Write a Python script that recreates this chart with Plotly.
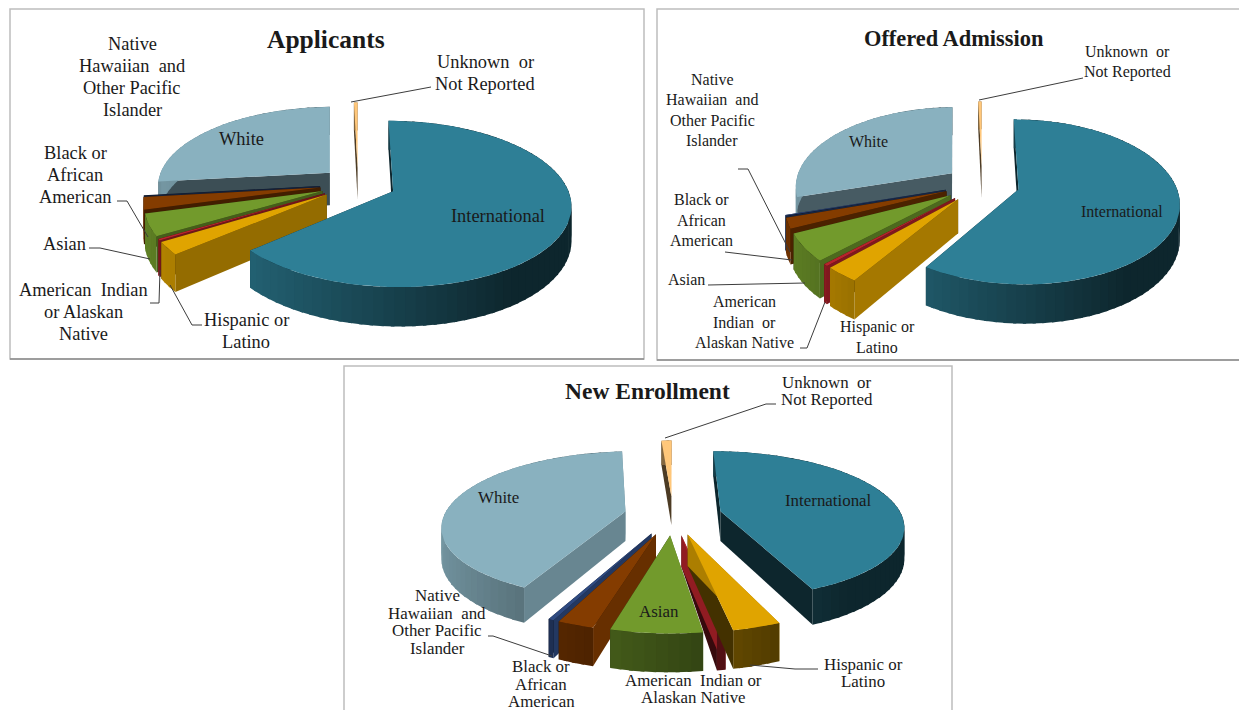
import math

import plotly.graph_objects as go

# clockwise from 12 o'clock
categories = [
    "International",
    "Hispanic or Latino",
    "American Indian or Alaskan Native",
    "Asian",
    "Black or African American",
    "Native Hawaiian and Other Pacific Islander",
    "White",
    "Unknown or Not Reported",
]
applicants = [63.6, 2.5, 0.3, 4.3, 2.4, 0.1, 26.4, 0.4]
offered_admission = [59.0, 3.0, 0.4, 5.4, 2.1, 0.2, 29.4, 0.4]
new_enrollment = [43.7, 3.4, 0.6, 6.4, 2.6, 0.4, 41.8, 1.1]

colors = ["#2e7f96", "#e0a400", "#b8242c", "#729a2c", "#843c00", "#2f4a80", "#89b1bf", "#ffc77a"]

SERIF = "Liberation Serif"
TEXT = "#1a1a1a"
LINE = "#3c3c3c"
# the page body keeps its default 8px margin, so the axes start there
PAGE_MARGIN = 8


def shade(hex_color, f):
    r, g, b = (int(hex_color[i:i + 2], 16) for i in (1, 3, 5))
    return f"rgb({int(r * f)},{int(g * f)},{int(b * f)})"


def project(pie, x, y, z=0.0):
    s = 1 / (1 + pie["p"] * y)
    return pie["cx"] + pie["rx"] * x * s, pie["cy"] - pie["ry"] * y * s + pie["depth"] * z * s


def add_poly(fig, pts, color):
    xs = [p[0] for p in pts] + [pts[0][0]]
    ys = [p[1] for p in pts] + [pts[0][1]]
    fig.add_trace(go.Scatter(x=xs, y=ys, mode="lines", fill="toself", fillcolor=color,
                             line={"color": color, "width": 0}, hoverinfo="skip", showlegend=False))


def add_slice(fig, pie, a0, a1, color):
    mid = math.radians((a0 + a1) / 2)
    ox, oy = pie["explode"] * math.sin(mid), pie["explode"] * math.cos(mid)

    def rim(deg, z=0.0):
        t = math.radians(deg)
        return project(pie, ox + math.sin(t), oy + math.cos(t), z)

    apex, apex_low = project(pie, ox, oy), project(pie, ox, oy, 1)

    # radial walls, lit from the right
    for edge, normal in ((a1, a1 + 90), (a0, a0 - 90)):
        f = max(0.3, 0.4 + 0.4 * math.sin(math.radians(normal)))
        add_poly(fig, [apex, rim(edge), rim(edge, 1), apex_low], shade(color, f))

    # outer wall in narrow strips so it picks up a gradient; each strip runs
    # slightly under the next one so no seam shows
    steps = max(1, math.ceil((a1 - a0) / 3))
    for i in range(steps):
        b0 = a0 + (a1 - a0) * i / steps
        b1 = a0 + (a1 - a0) * (i + 1) / steps
        f = min(0.88, max(0.3, 0.5 - 0.35 * math.sin(math.radians((b0 + b1) / 2))))
        over = b1 + (1.0 if i < steps - 1 else 0.0)
        add_poly(fig, [rim(b0), rim(over), rim(over, 1), rim(b0, 1)], shade(color, f))

    n = max(2, math.ceil((a1 - a0) / 2))
    add_poly(fig, [apex] + [rim(a0 + (a1 - a0) * i / n) for i in range(n + 1)], color)


def add_pie(fig, pie, values):
    total = sum(values)
    spans = []
    start = 0.0
    for value in values:
        end = start + 360 * value / total
        spans.append((start, end))
        start = end
    # back to front; International goes on last
    for i in reversed(range(len(values))):
        add_slice(fig, pie, spans[i][0], spans[i][1], colors[i])


def label(fig, x, y, lines, size, spacing=0, bold=False):
    top = y - spacing * (len(lines) - 1) / 2
    for i, line in enumerate(lines):
        fig.add_annotation(x=x, y=top + i * spacing, text=f"<b>{line}</b>" if bold else line, showarrow=False,
                           font={"family": SERIF, "size": size, "color": TEXT})


def leader(fig, pts):
    path = "M " + " L ".join(f"{x} {y}" for x, y in pts)
    fig.add_shape(type="path", path=path, line={"color": LINE, "width": 1})


def frame(fig, x0, y0, x1, y1):
    fig.add_shape(type="rect", x0=x0, y0=y0, x1=x1, y1=y1, line={"color": "#bdbdbd", "width": 1.5}, layer="below")
    fig.add_shape(type="line", x0=x0, y0=y1, x1=x1, y1=y1, line={"color": "#8c8c8c", "width": 1.5}, layer="below")


fig = go.Figure()

frame(fig, 10, 9, 644, 359)
frame(fig, 657, 9, 1245, 360)
frame(fig, 344, 366, 952, 714)

add_pie(fig, {"cx": 358, "cy": 184, "rx": 173, "ry": 79, "p": 0.15, "depth": 33, "explode": 0.22}, applicants)
add_pie(fig, {"cx": 982, "cy": 184, "rx": 157, "ry": 79, "p": 0.15, "depth": 33, "explode": 0.24}, offered_admission)
add_pie(fig, {"cx": 673, "cy": 515, "rx": 181, "ry": 72, "p": 0.18, "depth": 30, "explode": 0.27}, new_enrollment)

# Applicants
label(fig, 326, 39, ["Applicants"], 25.5, bold=True)
label(fig, 132, 77, ["Native", "Hawaiian  and", "Other Pacific", "Islander"], 18.4, 22)
label(fig, 75, 175, ["Black or", "African", "American"], 18.4, 22)
label(fig, 64, 244, ["Asian"], 18.4)
label(fig, 83, 312, ["American  Indian", "or Alaskan", "Native"], 18.4, 22)
label(fig, 246, 331, ["Hispanic or", "Latino"], 18.4, 22)
label(fig, 485, 73, ["Unknown  or", "Not Reported"], 18.4, 22)
label(fig, 241, 139, ["White"], 18.4)
label(fig, 498, 216, ["International"], 18.4)
leader(fig, [(351, 102), (431, 87)])
leader(fig, [(117, 201), (127, 201), (148, 237)])
leader(fig, [(89, 248), (100, 248), (150, 259)])
leader(fig, [(150, 303), (159, 303), (160, 270)])
leader(fig, [(202, 325), (192, 325), (170, 285)])

# Offered Admission
label(fig, 954, 38, ["Offered Admission"], 22.4, bold=True)
label(fig, 712, 110, ["Native", "Hawaiian  and", "Other Pacific", "Islander"], 16, 20.5)
label(fig, 701, 220, ["Black or", "African", "American"], 16, 20.5)
label(fig, 686, 279, ["Asian"], 16)
label(fig, 744, 322, ["American", "Indian  or", "Alaskan Native"], 16, 20.5)
label(fig, 877, 337, ["Hispanic or", "Latino"], 16, 20.5)
label(fig, 1127, 62, ["Unknown  or", "Not Reported"], 16, 20.5)
label(fig, 868, 141, ["White"], 16)
label(fig, 1122, 211, ["International"], 16)
leader(fig, [(979, 100), (1083, 78)])
leader(fig, [(738, 169), (748, 169), (790, 252)])
leader(fig, [(725, 252), (792, 260)])
leader(fig, [(708, 285), (805, 283)])
leader(fig, [(800, 348), (807, 348), (825, 302)])

# New Enrollment
label(fig, 647, 391, ["New Enrollment"], 23.5, bold=True)
label(fig, 437, 622, ["Native", "Hawaiian  and", "Other Pacific", "Islander"], 16.9, 17.5)
label(fig, 541, 684, ["Black or", "African", "American"], 16.9, 17.5)
label(fig, 693, 689, ["American  Indian or", "Alaskan Native"], 16.9, 17.5)
label(fig, 863, 673, ["Hispanic or", "Latino"], 16.9, 17.5)
label(fig, 827, 391, ["Unknown  or", "Not Reported"], 16.9, 17.5)
label(fig, 498, 497, ["White"], 16.9)
label(fig, 828, 500, ["International"], 16.9)
label(fig, 659, 611, ["Asian"], 16.9)
leader(fig, [(665, 438), (766, 404), (776, 404)])
leader(fig, [(488, 636), (493, 636), (552, 656)])
leader(fig, [(750, 665), (795, 669), (818, 669)])

fig.update_xaxes(range=[PAGE_MARGIN, 1247], visible=False, fixedrange=True)
fig.update_yaxes(range=[710, PAGE_MARGIN], visible=False, fixedrange=True)
fig.update_layout(width=1247 - PAGE_MARGIN, height=710 - PAGE_MARGIN, margin={"l": 0, "r": 0, "t": 0, "b": 0},
                  paper_bgcolor="white", plot_bgcolor="white", showlegend=False)

fig.write_html("out.html")
